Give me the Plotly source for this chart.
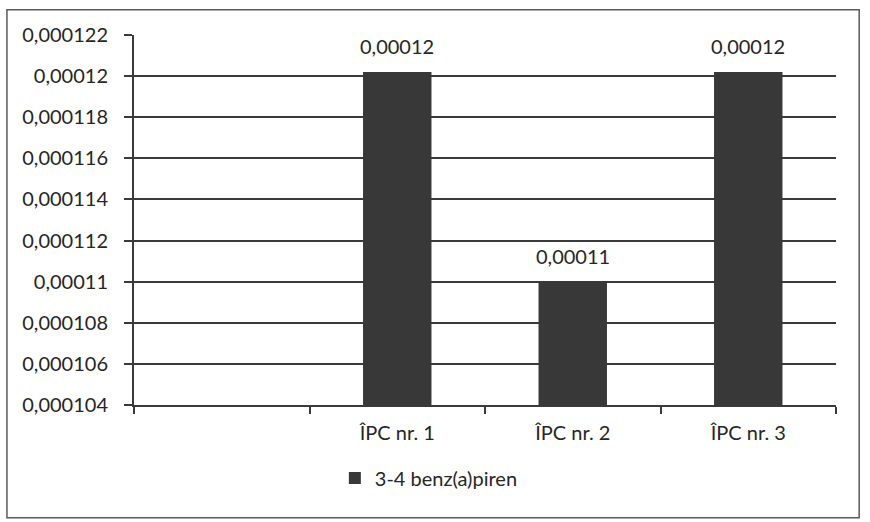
import plotly.graph_objects as go

categories = [" ", "ÎPC nr. 1", "ÎPC nr. 2", "ÎPC nr. 3"]
values = [None, 0.0001202, 0.00011, 0.0001202]
series_name = "3-4 benz(a)piren"
y_ticks = [0.000104, 0.000106, 0.000108, 0.00011, 0.000112, 0.000114,
           0.000116, 0.000118, 0.00012, 0.000122]

FONT = "Lato"
FS = 20
TXT = "#262626"
GRID = "#3a3a3a"

fig = go.Figure()
fig.add_trace(go.Bar(
    x=categories, y=values, name=series_name,
    marker=dict(color="#383838", line=dict(width=0)),
    showlegend=True,
))

for c, v in zip(categories, values):
    if v is None:
        continue
    fig.add_annotation(x=c, y=v, text=f"{v:.5f}".rstrip("0").replace(".", ","),
                       showarrow=False, yanchor="bottom", yshift=12,
                       font=dict(family=FONT, size=FS, color=TXT))

fig.add_shape(type="rect", xref="paper", yref="paper",
              x0=-0.181, x1=1.033, y0=-0.305, y1=1.068,
              line=dict(color="#5a5a5a", width=1.5), layer="below")

fig.update_layout(
    width=870, height=522,
    margin=dict(l=134, r=34, t=35, b=117),
    paper_bgcolor="white", plot_bgcolor="white",
    separators=", ",
    bargap=0.61,
    font=dict(family=FONT, size=FS, color=TXT),
    showlegend=True,
    legend=dict(orientation="h", x=0.42, xanchor="center", y=-0.197, yanchor="middle",
                font=dict(family=FONT, size=FS, color=TXT), itemwidth=30,
                bgcolor="rgba(0,0,0,0)"),
    xaxis=dict(type="category", categoryorder="array", categoryarray=categories,
               range=[-0.5, 3.5], tickson="boundaries", ticks="outside", ticklen=7,
               tickwidth=2, tickcolor=GRID, showline=True, linecolor=GRID, linewidth=2,
               showgrid=False, ticklabelstandoff=9,
               tickfont=dict(family=FONT, size=FS, color=TXT)),
    yaxis=dict(range=[0.000104, 0.000122], tickvals=y_ticks, tickformat=".6~f",
               ticks="outside", ticklen=8, tickwidth=2, tickcolor=GRID,
               showline=True, linecolor=GRID, linewidth=2,
               showgrid=True, gridcolor=GRID, gridwidth=2, zeroline=False,
               ticklabelstandoff=12,
               tickfont=dict(family=FONT, size=FS, color=TXT)),
)

fig.write_html("out.html")
